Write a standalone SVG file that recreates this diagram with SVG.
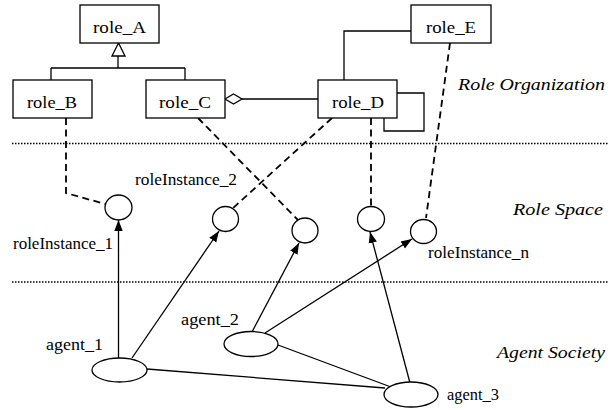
<svg xmlns="http://www.w3.org/2000/svg" width="614" height="410" viewBox="0 0 614 410">
<style>
.box{fill:#fff;stroke:#000;stroke-width:1.3}
.ln{fill:none;stroke:#000;stroke-width:1.3}
.dash{fill:none;stroke:#000;stroke-width:1.8;stroke-dasharray:7 4.5}
.dot{fill:none;stroke:#000;stroke-width:1.4;stroke-dasharray:1.5 1.5}
.arr{fill:none;stroke:#000;stroke-width:1.3;marker-end:url(#ah)}
.node{fill:#fff;stroke:#000;stroke-width:1.3}
</style>
<defs>
<marker id="ah" markerUnits="userSpaceOnUse" markerWidth="12" markerHeight="10" viewBox="0 0 12 10" refX="11" refY="5" orient="auto">
<path d="M0,0.8 L11,5 L0,9.2 Z" fill="#000"/>
</marker>
</defs>
<rect width="614" height="410" fill="#fff"/>
<g id="layers" font-family="Liberation Serif, Times New Roman, serif" font-size="17.5" font-style="italic" fill="#000">
<line class="dot" x1="12" y1="143.5" x2="608" y2="143.5"/>
<line class="dot" x1="12" y1="282" x2="608" y2="282"/>
<text x="458" y="90" textLength="147" lengthAdjust="spacingAndGlyphs">Role Organization</text>
<text x="513" y="215" textLength="90" lengthAdjust="spacingAndGlyphs">Role Space</text>
<text x="497" y="358" textLength="108" lengthAdjust="spacingAndGlyphs">Agent Society</text>
</g>
<g id="connectors">
<path class="ln" d="M118,56 V68 M51,68 H185 M51,68 V80 M185,68 V80"/>
<polygon points="118.5,43 112,56 125,56" fill="#fff" stroke="#000" stroke-width="1.3"/>
<line class="ln" x1="242" y1="99" x2="318" y2="99"/>
<polygon points="225,99 233.5,94 242,99 233.5,104" fill="#fff" stroke="#000" stroke-width="1.3"/>
<path class="ln" d="M397,93 H424 V131 H384 V118"/>
<path class="ln" d="M411,31 H344 V80"/>
<path class="dash" d="M66,118 V193 L105,204"/>
<path class="dash" d="M198,118 L298,220"/>
<path class="dash" d="M332,118 L232,209"/>
<path class="dash" d="M371,118 V206"/>
<path class="dash" d="M450,43 L426,218"/>
<line class="arr" x1="118.5" y1="358" x2="118.5" y2="220"/>
<line class="arr" x1="132" y1="358" x2="219" y2="231"/>
<line class="arr" x1="252" y1="332" x2="299" y2="243"/>
<line class="arr" x1="265" y1="333" x2="412" y2="239"/>
<line class="arr" x1="410" y1="383" x2="370" y2="232"/>
<line class="ln" x1="147" y1="369" x2="385" y2="388"/>
<line class="ln" x1="278" y1="345" x2="391" y2="387"/>
</g>
<g font-family="Liberation Serif, Times New Roman, serif" font-size="17" fill="#000">
<g id="role_A"><rect class="box" x="80" y="5" width="79" height="38"/><text x="93" y="33" textLength="53" lengthAdjust="spacingAndGlyphs">role_A</text></g>
<g id="role_B"><rect class="box" x="13" y="80" width="79" height="38"/><text x="27" y="108" textLength="50" lengthAdjust="spacingAndGlyphs">role_B</text></g>
<g id="role_C"><rect class="box" x="146" y="80" width="79" height="38"/><text x="159" y="108" textLength="52" lengthAdjust="spacingAndGlyphs">role_C</text></g>
<g id="role_D"><rect class="box" x="318" y="80" width="79" height="38"/><text x="332" y="108" textLength="52" lengthAdjust="spacingAndGlyphs">role_D</text></g>
<g id="role_E"><rect class="box" x="411" y="5" width="80" height="38"/><text x="426" y="33" textLength="50" lengthAdjust="spacingAndGlyphs">role_E</text></g>
<g id="roleInstance_1"><ellipse class="node" cx="118.5" cy="207.5" rx="13.5" ry="12.5"/><text x="13" y="249" textLength="100" lengthAdjust="spacingAndGlyphs">roleInstance_1</text></g>
<g id="roleInstance_2"><ellipse class="node" cx="225.5" cy="219" rx="13" ry="12.5"/><text x="135" y="185" textLength="102" lengthAdjust="spacingAndGlyphs">roleInstance_2</text></g>
<g id="roleInstance_3"><ellipse class="node" cx="305" cy="230.5" rx="13" ry="12.5"/></g>
<g id="roleInstance_4"><ellipse class="node" cx="371" cy="219" rx="13.5" ry="12.5"/></g>
<g id="roleInstance_n"><ellipse class="node" cx="423.5" cy="231.5" rx="13" ry="12"/><text x="428" y="258" textLength="101" lengthAdjust="spacingAndGlyphs">roleInstance_n</text></g>
<g id="agent_1"><ellipse class="node" cx="119.5" cy="370" rx="27.5" ry="12"/><text x="46" y="350" textLength="57" lengthAdjust="spacingAndGlyphs">agent_1</text></g>
<g id="agent_2"><ellipse class="node" cx="251" cy="344" rx="27" ry="12.5"/><text x="181" y="325" textLength="58" lengthAdjust="spacingAndGlyphs">agent_2</text></g>
<g id="agent_3"><ellipse class="node" cx="411" cy="394.5" rx="27" ry="12.5"/><text x="447" y="400" textLength="52" lengthAdjust="spacingAndGlyphs">agent_3</text></g>
</g>
</svg>
